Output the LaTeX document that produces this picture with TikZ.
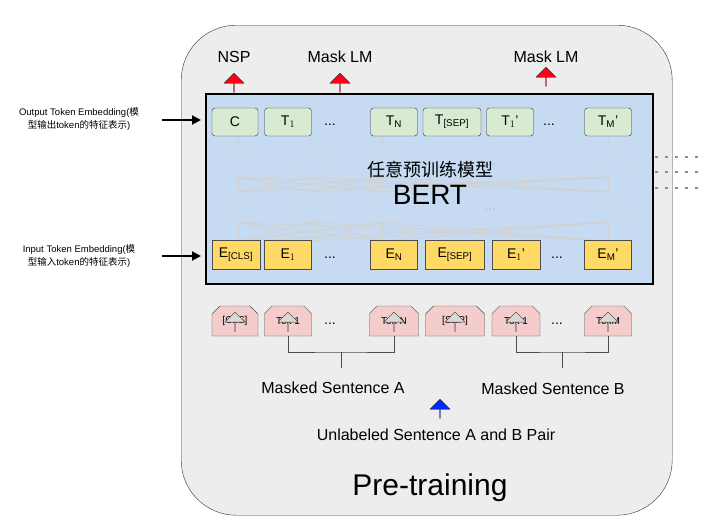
\documentclass[tikz,border=0pt]{standalone}
\usepackage{fontspec}
\setmainfont{Liberation Sans}
\newfontfamily\cjk{Noto Sans CJK SC}
\usetikzlibrary{shapes.geometric,shapes.arrows,shapes.misc,arrows.meta}
\tikzset{
 outbox/.style={draw=black!80,fill={rgb,255:red,217;green,234;blue,211},rounded corners=3pt,minimum height=28pt,font=\fontsize{14}{14}\selectfont,inner sep=0},
 embbox/.style={draw=black!70,fill={rgb,255:red,255;green,217;blue,102},minimum height=29pt,font=\fontsize{14}{14}\selectfont,inner sep=0},
 tokbox/.style={draw=black!70,fill={rgb,255:red,244;green,204;blue,204},chamfered rectangle,chamfered rectangle corners={north west,north east},chamfered rectangle xsep=4pt,chamfered rectangle ysep=4pt,minimum height=30pt,font=\fontsize{10}{10}\selectfont,inner sep=0},
 bigarrow/.style={single arrow,shape border rotate=90,draw=black!80,minimum height=19pt,minimum width=20pt,single arrow head extend=4pt,inner sep=0},
 lbl/.style={font=\fontsize{16}{16}\selectfont},
 neur/.style={draw=black!15,ellipse,minimum width=38pt,minimum height=30pt},
 faint/.style={draw=black!18,line width=0.8pt},
 dots/.style={font=\fontsize{14}{14}\selectfont}
}
\begin{document}
\begin{tikzpicture}[x=1pt,y=-1pt]
\useasboundingbox (0,0) rectangle (708,517);
\node[draw=black!80,fill=black!7,rounded corners=55pt,minimum width=491pt,minimum height=490pt,anchor=north west] (outer) at (181,25) {};
\node[draw=black,line width=2pt,fill={rgb,255:red,198;green,218;blue,242},minimum width=447pt,minimum height=190pt,anchor=north west] (bert) at (205,93) {};
% neurons
\foreach \x/\n in {238/a,310/b,382/c,608/d}{
 \node[neur] (u\n) at (\x,162) {};
 \node[neur] (l\n) at (\x,207) {};
}
\foreach \a in {a,b,c,d}{\foreach \b in {a,b,c,d}{
 \draw[faint,-{Stealth[length=3pt]}] (l\a.north) -- (u\b.south);
 \draw[faint,-{Stealth[length=3pt]}] (l\a.south|-0,241) -- (l\b.south);}}
\foreach \a in {a,b,c,d}{\draw[faint,-{Stealth[length=3pt]}] (u\a.north) -- ++(0,-9);}
\node[text=black!25,dots] at (490,165) {...};
\node[text=black!25,dots] at (490,210) {...};
\foreach \y in {157,172,188}{\draw[black!45,line width=2pt,dash pattern=on 3pt off 7pt] (655,\y) -- (705,\y);}
% outputs
\node[outbox,minimum width=46pt] (C) at (235,122) {C};
\node[outbox,minimum width=47pt] (T1) at (288,122) {T$_1$};
\node[dots] (od1) at (330,125) {...};
\node[outbox,minimum width=47pt] (TN) at (394,122) {T$_\mathrm{N}$};
\node[outbox,minimum width=58pt] (TS) at (452,122) {T\textsubscript{[SEP]}};
\node[outbox,minimum width=47pt] (T1p) at (510,122) {T$_1$'};
\node[dots] (od2) at (549,125) {...};
\node[outbox,minimum width=47pt] (TM) at (608,122) {T$_\mathrm{M}$'};
\node[font=\cjk\fontsize{18}{18}\selectfont] (zh) at (430,170) {任意预训练模型};
\node[font=\fontsize{28}{28}\selectfont] (bt) at (430,195) {BERT};
% embeddings
\node[embbox,minimum width=48pt] (E0) at (236,255) {E\textsubscript{[CLS]}};
\node[embbox,minimum width=47pt] (E1) at (288,255) {E$_1$};
\node[dots] (ed1) at (330,258) {...};
\node[embbox,minimum width=47pt] (EN) at (394,255) {E$_\mathrm{N}$};
\node[embbox,minimum width=59pt] (ES) at (455,255) {E\textsubscript{[SEP]}};
\node[embbox,minimum width=48pt] (E1p) at (516,255) {E$_1$'};
\node[dots] (ed2) at (557,258) {...};
\node[embbox,minimum width=47pt] (EM) at (608,255) {E$_\mathrm{M}$'};
% tokens
\node[tokbox,minimum width=46pt] (K0) at (235,321) {[CLS]};
\node[tokbox,minimum width=47pt] (K1) at (288,321) {Tok 1};
\node[dots] (kd1) at (330,324) {...};
\node[tokbox,minimum width=49pt] (KN) at (394,321) {Tok N};
\node[tokbox,minimum width=59pt] (KS) at (455,321) {[SEP]};
\node[tokbox,minimum width=48pt] (K1p) at (516,321) {Tok 1};
\node[dots] (kd2) at (557,324) {...};
\node[tokbox,minimum width=47pt] (KM) at (608,321) {TokM};
\foreach \k in {0,1,N,S,1p,M}{\node[bigarrow,fill=black!15] (ga\k) at ([yshift=-16pt]K\k.north) {};}
% brackets
\coordinate (ma) at (341,352);
\coordinate (mb) at (562,352);
\draw[black!70] (K1.south) |- (ma) -| (KN.south);
\draw[black!70] (ma) -- (341,368);
\draw[black!70] (K1p.south) |- (mb) -| (KM.south);
\draw[black!70] (mb) -- (562,368);
\node[lbl] (msa) at (333,388) {Masked Sentence A};
\node[lbl] (msb) at (553,389) {Masked Sentence B};
\node[bigarrow,fill={rgb,255:red,0;green,40;blue,255}] (blue) at (440,409) {};
\node[lbl] (unl) at (436,435) {Unlabeled Sentence A and B Pair};
\node[font=\fontsize{30}{30}\selectfont] (pt) at (430,488) {Pre-training};
% red arrows
\node[bigarrow,fill={rgb,255:red,255;green,0;blue,20}] (r1) at (234,83) {};
\node[bigarrow,fill={rgb,255:red,255;green,0;blue,20}] (r2) at (340,83) {};
\node[bigarrow,fill={rgb,255:red,255;green,0;blue,20}] (r3) at (546,77) {};
\node[lbl] (nsp) at (234,57) {NSP};
\node[lbl] (m1) at (340,57) {Mask LM};
\node[lbl] (m2) at (546,57) {Mask LM};
% left labels
\node[align=center,font=\fontsize{9.5}{13}\selectfont] (ol) at (79,119) {Output Token Embedding(\cjk 模\\\cjk 型输出\rmfamily token\cjk 的特征表示\rmfamily)};
\node[align=center,font=\fontsize{9.5}{13}\selectfont] (il) at (79,256) {Input Token Embedding(\cjk 模\\\cjk 型输入\rmfamily token\cjk 的特征表示\rmfamily)};
\coordinate (oa) at (201,120);
\coordinate (ia) at (201,256);
\draw[line width=2pt,-{Triangle[length=9pt,width=9pt]}] (162,120) -- (oa);
\draw[line width=2pt,-{Triangle[length=9pt,width=9pt]}] (162,256) -- (ia);
\end{tikzpicture}
\end{document}
